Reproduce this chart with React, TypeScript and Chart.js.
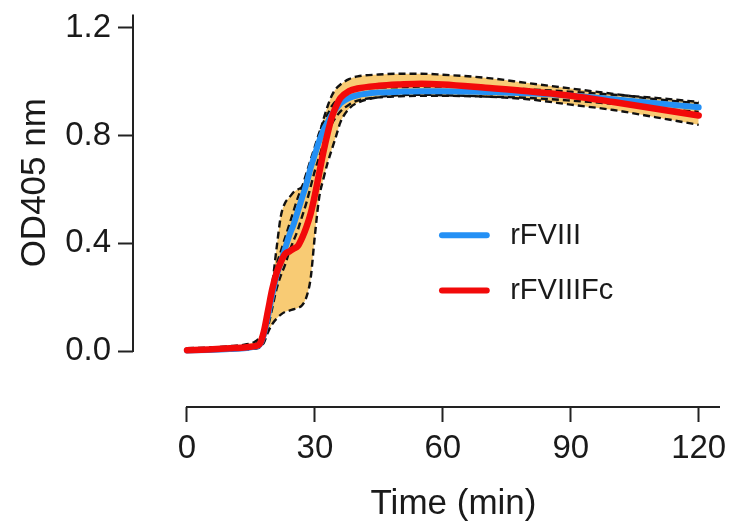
import React, { useEffect, useRef } from "react";
import { Chart, registerables } from "chart.js";

Chart.register(...registerables);

// ---- data ----
const timeMin = [0, 5, 10, 14, 16, 17, 18, 19, 20, 21, 22, 23, 24, 25, 26, 27, 28, 29, 30, 31, 32, 33, 34, 35, 36, 38, 40, 45, 50, 55, 60, 70, 80, 90, 100, 110, 120];

const rFVIII = [0.002, 0.004, 0.007, 0.011, 0.016, 0.022, 0.06, 0.13, 0.21, 0.28, 0.33, 0.38, 0.43, 0.47, 0.52, 0.57, 0.62, 0.68, 0.73, 0.78, 0.82, 0.85, 0.88, 0.9, 0.92, 0.94, 0.95, 0.96, 0.963, 0.965, 0.965, 0.962, 0.957, 0.948, 0.935, 0.92, 0.905];
const rFVIIIUpper = [0.006, 0.008, 0.012, 0.017, 0.025, 0.04, 0.09, 0.17, 0.25, 0.32, 0.37, 0.42, 0.47, 0.52, 0.57, 0.61, 0.66, 0.71, 0.76, 0.81, 0.85, 0.88, 0.91, 0.93, 0.945, 0.96, 0.97, 0.978, 0.98, 0.982, 0.982, 0.978, 0.972, 0.963, 0.952, 0.94, 0.925];
const rFVIIILower = [0.0, 0.001, 0.003, 0.006, 0.009, 0.012, 0.035, 0.09, 0.16, 0.23, 0.28, 0.32, 0.37, 0.41, 0.45, 0.5, 0.55, 0.61, 0.67, 0.72, 0.77, 0.81, 0.845, 0.87, 0.89, 0.915, 0.93, 0.942, 0.946, 0.948, 0.948, 0.945, 0.94, 0.93, 0.918, 0.902, 0.888];

const rFVIIIFc = [0.003, 0.006, 0.01, 0.014, 0.018, 0.025, 0.07, 0.15, 0.23, 0.29, 0.33, 0.36, 0.37, 0.38, 0.39, 0.42, 0.46, 0.51, 0.58, 0.66, 0.74, 0.81, 0.87, 0.91, 0.94, 0.965, 0.975, 0.985, 0.99, 0.993, 0.99, 0.978, 0.965, 0.948, 0.925, 0.9, 0.875];
const rFVIIIFcUpper = [0.01, 0.013, 0.018, 0.025, 0.035, 0.05, 0.08, 0.16, 0.25, 0.38, 0.5, 0.55, 0.57, 0.59, 0.6, 0.61, 0.64, 0.68, 0.73, 0.8, 0.86, 0.91, 0.95, 0.975, 0.99, 1.01, 1.02, 1.027, 1.03, 1.03, 1.026, 1.015, 0.995, 0.975, 0.955, 0.935, 0.92];
const rFVIIIFcLower = [0.0, 0.002, 0.004, 0.007, 0.01, 0.015, 0.03, 0.07, 0.1, 0.12, 0.135, 0.145, 0.15, 0.155, 0.16, 0.17, 0.2, 0.27, 0.43, 0.57, 0.64, 0.7, 0.75, 0.8, 0.85, 0.9, 0.922, 0.943, 0.95, 0.952, 0.95, 0.945, 0.935, 0.915, 0.895, 0.868, 0.84];

const xTicks = [0, 30, 60, 90, 120];
const yTicks = [0, 0.4, 0.8, 1.2];
const xTitle = "Time (min)";
const yTitle = "OD405 nm";
const seriesNames = ["rFVIII", "rFVIIIFc"];

// ---- styles ----
const FONT = '"Liberation Sans", Arial, Helvetica, sans-serif';
const TEXT = "#1a1a1a";
const AXIS = "#222";
const BLUE = "#2490F5";
const RED = "#F20A0A";
const BAND = "#F8CB74";
const DASH = "#111";

const pts = (ys: number[]) => timeMin.map((t, i) => ({ x: t, y: ys[i] }));

const decorPlugin = {
  id: "decor",
  afterDraw(chart: any) {
    const { ctx, chartArea } = chart;
    const x = chart.scales.x;
    const y = chart.scales.y;
    ctx.save();
    // axis lines
    ctx.strokeStyle = AXIS;
    ctx.lineWidth = 2;
    ctx.lineCap = "butt";
    ctx.beginPath();
    ctx.moveTo(chartArea.left, y.getPixelForValue(1.25));
    ctx.lineTo(chartArea.left, y.getPixelForValue(0) + 1);
    ctx.moveTo(x.getPixelForValue(0) - 1, chartArea.bottom);
    ctx.lineTo(x.getPixelForValue(125), chartArea.bottom);
    ctx.stroke();

    // axis titles
    ctx.fillStyle = TEXT;
    ctx.font = `35px ${FONT}`;
    ctx.textAlign = "center";
    ctx.textBaseline = "middle";
    ctx.fillText(xTitle, (x.getPixelForValue(0) + x.getPixelForValue(125)) / 2, 504);
    ctx.save();
    ctx.translate(35, (y.getPixelForValue(0) + y.getPixelForValue(1.25)) / 2);
    ctx.rotate(-Math.PI / 2);
    ctx.fillText(yTitle, 0, 0);
    ctx.restore();

    // legend
    const items = [
      { name: seriesNames[0], color: BLUE, yv: 0.43 },
      { name: seriesNames[1], color: RED, yv: 0.225 },
    ];
    ctx.font = `29px ${FONT}`;
    ctx.textAlign = "left";
    items.forEach((it) => {
      const py = y.getPixelForValue(it.yv);
      ctx.strokeStyle = it.color;
      ctx.lineWidth = 6;
      ctx.lineCap = "round";
      ctx.beginPath();
      ctx.moveTo(x.getPixelForValue(59.8), py);
      ctx.lineTo(x.getPixelForValue(70.3), py);
      ctx.stroke();
      ctx.fillText(it.name, x.getPixelForValue(75.8), py + 1);
    });
    ctx.restore();
  },
};

export default function App() {
  const ref = useRef<HTMLCanvasElement>(null);
  useEffect(() => {
    if (!ref.current) return;
    const dashed = (label: string, data: number[], fill: any) => ({
      label,
      data: pts(data),
      borderColor: DASH,
      borderWidth: 2.4,
      borderDash: [7, 4],
      backgroundColor: BAND,
      fill,
      pointRadius: 0,
      cubicInterpolationMode: "monotone" as const,
    });
    const chart = new Chart(ref.current, {
      type: "line",
      data: {
        datasets: [
          {
            label: seriesNames[1],
            data: pts(rFVIIIFc),
            borderColor: RED,
            borderWidth: 6.5,
            borderCapStyle: "round",
            borderJoinStyle: "round",
            pointRadius: 0,
            fill: false,
            cubicInterpolationMode: "monotone",
          },
          {
            label: seriesNames[0],
            data: pts(rFVIII),
            borderColor: BLUE,
            borderWidth: 6,
            borderCapStyle: "round",
            borderJoinStyle: "round",
            pointRadius: 0,
            fill: false,
            cubicInterpolationMode: "monotone",
          },
          dashed("rFVIII upper", rFVIIIUpper, "+1"),
          dashed("rFVIII lower", rFVIIILower, false),
          dashed("rFVIIIFc upper", rFVIIIFcUpper, "+1"),
          dashed("rFVIIIFc lower", rFVIIIFcLower, false),
        ],
      },
      options: {
        responsive: false,
        animation: false,
        layout: { padding: { top: 15, right: 12, left: 0, bottom: 0 } },
        plugins: {
          legend: { display: false },
          tooltip: { enabled: false },
          filler: { drawTime: "beforeDatasetsDraw" },
        },
        scales: {
          x: {
            type: "linear",
            min: -12.66,
            max: 125,
            afterBuildTicks: (s: any) => {
              s.ticks = xTicks.map((v) => ({ value: v }));
            },
            afterFit: (s: any) => {
              s.height = 120;
              s.paddingLeft = 0;
              s.paddingRight = 0;
            },
            border: { display: false },
            grid: {
              drawOnChartArea: false,
              drawTicks: true,
              tickLength: 15,
              tickColor: AXIS,
              tickWidth: 2,
            },
            ticks: {
              padding: 10,
              color: TEXT,
              font: { family: FONT, size: 33, lineHeight: 1 },
              maxRotation: 0,
              autoSkip: false,
              callback: (v: any) => String(v),
            },
          },
          y: {
            type: "linear",
            min: -0.208,
            max: 1.248,
            afterBuildTicks: (s: any) => {
              s.ticks = yTicks.map((v) => ({ value: v }));
            },
            afterFit: (s: any) => {
              s.width = 133;
              s.paddingTop = 0;
              s.paddingBottom = 0;
            },
            border: { display: false },
            grid: {
              drawOnChartArea: false,
              drawTicks: true,
              tickLength: 15,
              tickColor: AXIS,
              tickWidth: 2,
            },
            ticks: {
              padding: 7,
              color: TEXT,
              font: { family: FONT, size: 33, lineHeight: 1 },
              autoSkip: false,
              callback: (v: any) => Number(v).toFixed(1),
            },
          },
        },
      },
      plugins: [decorPlugin],
    });
    return () => chart.destroy();
  }, []);
  return (
    <div style={{ position: "fixed", left: 0, top: 0, width: 732, height: 527, background: "#fff" }}>
      <canvas ref={ref} width={732} height={527} />
    </div>
  );
}
